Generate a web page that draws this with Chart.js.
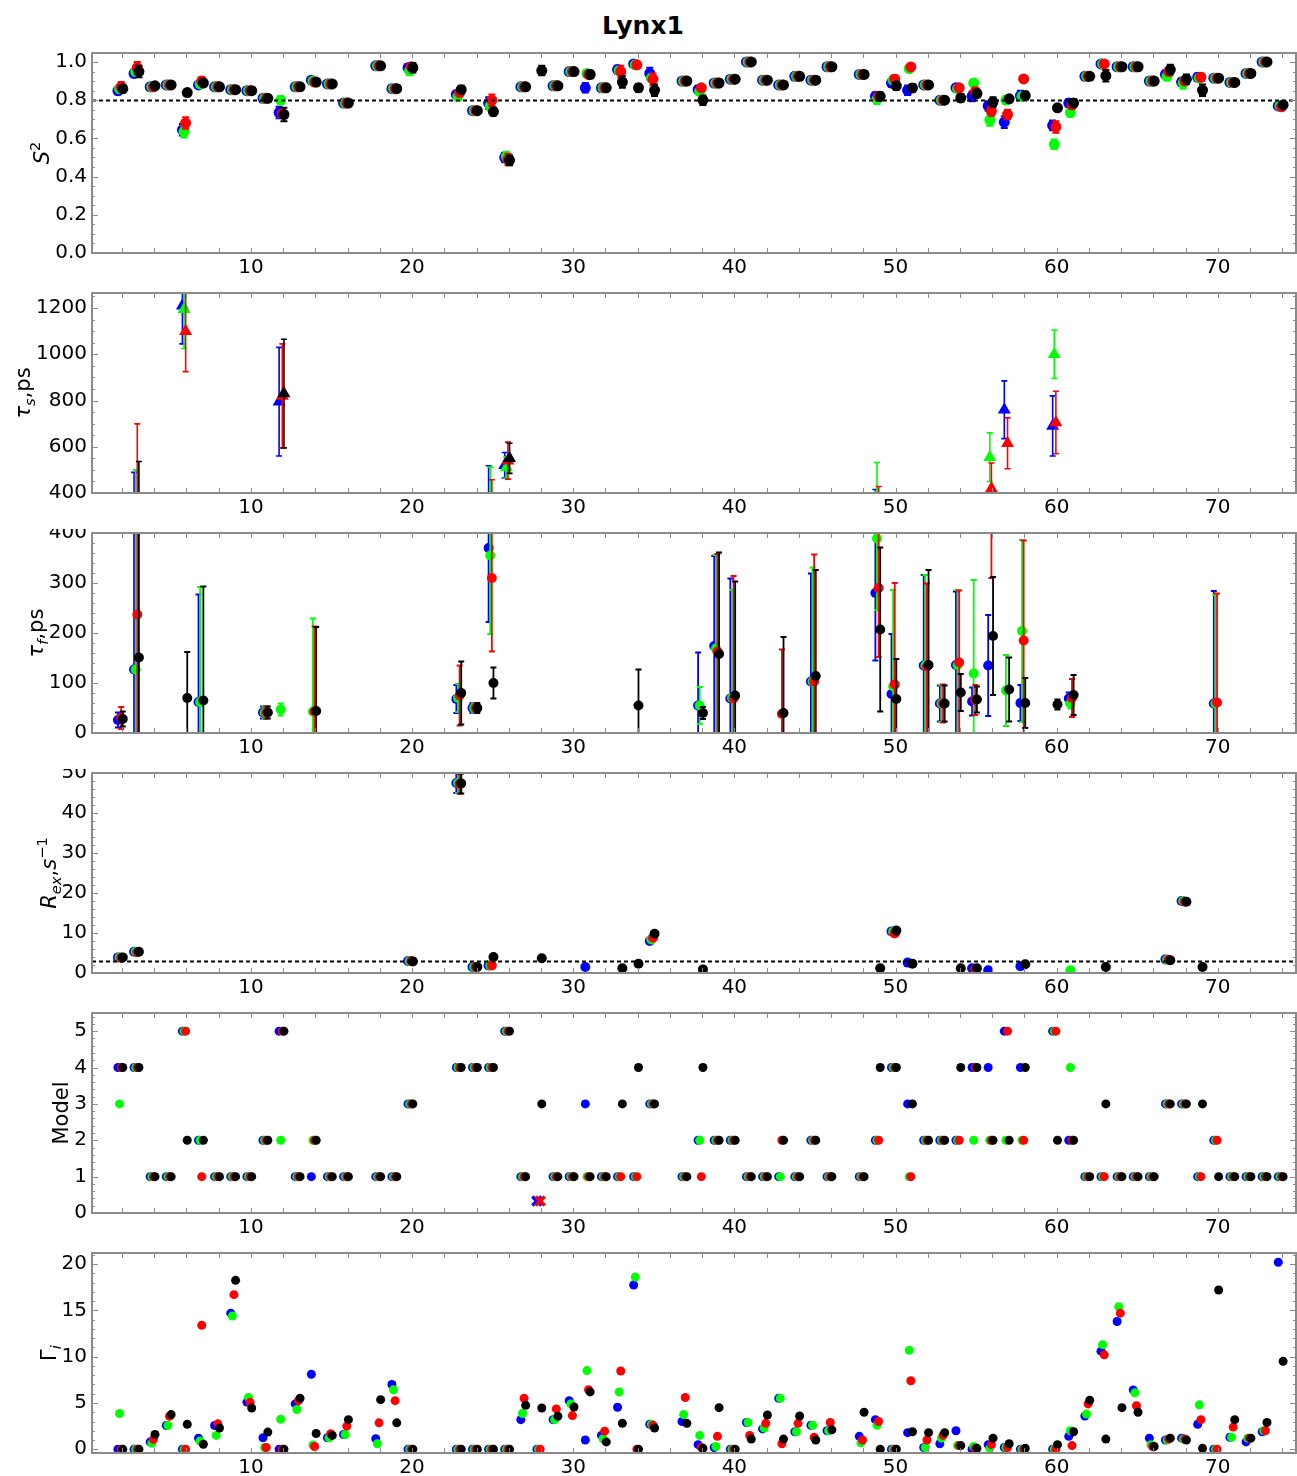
<!DOCTYPE html>
<html>
<head>
<meta charset="utf-8">
<script src="https://cdn.jsdelivr.net/npm/chart.js@4.4.0/dist/chart.umd.min.js"></script>
<style>
html,body{margin:0;padding:0;background:#fff;}
#page{position:relative;width:1297px;height:1476px;overflow:hidden;background:#fff;}
#title{position:absolute;left:0;width:1286px;top:11px;line-height:30px;text-align:center;font:bold 25px 'DejaVu Sans',sans-serif;color:#000;}
.band{position:absolute;left:0;width:1297px;overflow:hidden;}
.band canvas{position:absolute;left:0;}
</style>
</head>
<body>
<div id="page"><div id="title">Lynx1</div></div>
<script>
// ---------------- data ----------------
const residues = [2,3,4,5,6,7,8,9,10,11,12,13,14,15,16,17,18,19,20,21,22,23,24,25,26,27,28,29,30,31,32,33,34,35,36,37,38,39,40,41,42,43,44,45,46,47,48,49,50,51,52,53,54,55,56,57,58,59,60,61,62,63,64,65,66,67,68,69,70,71,72,73,74];

// order parameter S^2
const s2Blue = [.85,.94,.87,.88,.645,.88,.87,.855,.85,.81, .735,.87,.905,.885,.785,null,.98,.86,.97,null, null,.83,.745,.785,.50,.87,null,.875,.95,.865, .865,.96,.99,.94,null,.90,.855,.89,.91,1.0, .905,.88,.925,.905,.975,null,.935,.82,.89,.852, .88,.80,.865,.82,.77,.685,.824,null,.668,.785, .925,.99,.975,.975,.90,.935,.895,.92,.915,.893, .94,1.0,.77];
const s2Green = [.86,.95,.87,.88,.635,.885,.87,.855,.85,.81, .80,.87,.90,.885,.785,null,.98,.86,.955,null, null,.82,.745,.77,.505,.87,null,.875,.95,.94, .865,.955,.985,.915,null,.90,.845,.89,.91,1.0, .905,.88,.925,.905,.975,null,.935,.805,.905,.965, .88,.80,.86,.89,.696,.80,.82,null,.569,.735, .925,.99,.975,.975,.90,.925,.89,.915,.915,.893, .94,1.0,.77];
const s2Red = [.87,.97,.87,.88,.68,.90,.87,.855,.85,.81, .73,.87,.895,.885,.785,null,.98,.86,.975,null, null,.84,.745,.80,.49,.87,null,.875,.95,.935, .865,.95,.985,.91,null,.90,.865,.89,.91,1.0, .905,.88,.925,.905,.975,null,.935,.82,.91,.974, .88,.80,.865,.845,.743,.725,.911,null,.66,.775, .925,.99,.975,.975,.90,.95,.90,.92,.915,.893, .94,1.0,.765];
const s2Black = [.86,.95,.875,.88,.84,.89,.87,.855,.85,.81, .725,.87,.895,.885,.785,null,.98,.86,.97,null, null,.855,.745,.74,.485,.87,.955,.875,.95,.935, .865,.895,.865,.852,null,.90,.80,.89,.91,1.0, .905,.88,.925,.905,.975,null,.935,.82,.875,.864, .88,.80,.812,.835,.79,.807,.824,null,.76,.785, .925,.928,.975,.975,.90,.96,.91,.852,.915,.893, .94,1.0,.775];

const s2ErrBlue = [.02,.02,.015,.015,.03,.015,.015,.015,.015,.01, .03,.015,.015,.015,.01,null,.015,.015,.02,null, null,.02,.015,.03,.025,.01,null,.015,.015,.025, .015,.02,.015,.03,null,.015,.02,.015,.015,.01, .015,.015,.015,.015,.015,null,.015,.02,.02,.025, .015,.01,.015,.025,.025,.03,.025,null,.025,.02, .015,.015,.015,.015,.015,.02,.02,.02,.015,.015, .015,.01,.01];
const s2ErrGreen = [.02,.02,.015,.015,.03,.015,.015,.015,.015,.01, .02,.015,.015,.015,.01,null,.015,.015,.025,null, null,.02,.015,.025,.025,.01,null,.015,.015,.015, .015,.015,.015,.02,null,.015,.015,.015,.015,.01, .015,.015,.015,.015,.015,null,.015,.025,.02,.015, .015,.01,.015,.015,.03,.02,.015,null,.025,.02, .015,.015,.015,.015,.015,.02,.03,.015,.015,.015, .015,.01,.01];
const s2ErrRed = [.025,.03,.015,.015,.03,.02,.015,.015,.015,.01, .02,.015,.015,.015,.01,null,.015,.015,.02,null, null,.02,.015,.03,.03,.01,null,.015,.015,.015, .015,.03,.015,.03,null,.015,.015,.015,.015,.01, .015,.015,.015,.015,.015,null,.015,.02,.02,.015, .015,.01,.015,.02,.025,.025,.015,null,.03,.02, .015,.015,.015,.015,.015,.02,.02,.02,.015,.015, .015,.01,.015];
const s2ErrBlack = [.02,.03,.015,.015,.015,.015,.015,.015,.015,.01, .035,.015,.015,.015,.01,null,.015,.015,.025,null, null,.02,.015,.02,.025,.01,.025,.015,.015,.02, .015,.03,.02,.03,null,.015,.025,.015,.015,.01, .015,.015,.015,.015,.015,null,.015,.02,.02,.02, .015,.01,.02,.02,.025,.015,.02,null,.01,.02, .015,.03,.015,.015,.015,.025,.025,.03,.015,.015, .015,.01,.015];

// internal correlation times (ps): slow values sit above 400, fast ones below
const tauBlue = [26,127,null,null,1210,62,null,null,null,41, 795,null,null,null,null,null,null,null,null,null, null,68,50,370,520,null,null,null,null,null, null,null,null,null,null,null,55,174,69,null, null,null,null,103,null,null,null,280,78,null, 135,59,136,63,135,760,60,null,690,69, null,null,null,null,null,null,null,null,59,null, null,null,null];
const tauErrBlue = [15,362,null,null,165,215,null,null,null,12, 235,null,null,null,null,null,null,null,null,null, null,28,10,148,55,null,null,null,null,null, null,null,null,null,null,null,106,180,240,null, null,null,null,216,null,null,null,135,120,null, 181,36,147,28,101,125,36,null,130,12, null,null,null,null,null,null,null,null,225,null, null,null,null];
const tauGreen = [null,127,null,null,1195,62,null,null,null,41, 47,null,43,null,null,null,null,null,null,null, null,70,50,355,510,null,null,null,null,null, null,null,null,null,null,null,55,169,70,null, null,null,null,103,null,null,null,389,93,null, 135,59,136,119,555,85,204,null,1000,59, null,null,null,null,null,null,null,null,59,null, null,null,null];
const tauErrGreen = [null,373,null,null,170,230,null,null,null,12, 12,null,186,null,null,null,null,null,null,null, null,28,10,157,45,null,null,null,null,null, null,null,null,null,null,null,37,187,216,null, null,null,null,228,null,null,null,143,193,null, 181,37,150,187,105,71,182,null,105,10, null,null,null,null,null,null,null,null,217,null, null,null,null];
const tauRed = [30,237,null,null,1100,null,null,null,null,41, 820,null,43,null,null,null,null,null,null,null, null,75,50,310,540,null,null,null,null,null, null,null,null,null,null,null,null,163,69,null, null,38,null,103,null,null,null,290,97,null, 133,59,141,66,420,615,185,null,705,70, null,null,null,null,null,null,null,null,61,null, null,null,null];
const tauErrRed = [22,462,null,null,175,null,null,null,null,12, 225,null,170,null,null,null,null,null,null,null, null,60,10,147,80,null,null,null,null,null, null,null,null,null,null,null,null,195,245,null, null,129,null,254,null,null,null,138,203,null, 166,38,144,30,110,110,200,null,135,38, null,null,null,null,null,null,null,null,218,null, null,null,null];
const tauBlack = [28,151,null,null,70,65,null,null,null,41, 830,null,44,null,null,null,null,null,null,null, null,80,50,100,550,null,null,null,null,null, null,null,55,null,null,null,40,158,75,null, null,40,null,114,null,null,null,207,68,null, 136,59,81,67,194,87,60,null,57,76, null,null,null,null,null,null,null,null,null,null, null,null,null];
const tauErrBlack = [15,385,null,null,92,228,null,null,null,12, 235,null,168,null,null,null,null,null,null,null, null,63,10,31,65,null,null,null,null,null, null,null,72,null,null,null,12,203,228,null, null,152,null,212,null,null,null,164,80,null, 190,36,37,26,118,64,50,null,10,40, null,null,null,null,null,null,null,null,null,null, null,null,null];

// chemical exchange R_ex (s^-1)
const rexBlue = [3.9,5.3,null,null,null,null,null,null,null,null, null,null,null,null,null,null,null,null,3.0,null, null,47.5,1.5,1.9,null,null,null,null,null,1.5, null,null,null,8.0,null,null,null,null,null,null, null,null,null,null,null,null,null,null,10.4,2.6, null,null,null,1.2,0.7,null,1.7,null,null,null, null,null,null,null,null,3.4,18.0,null,null,null, null,null,null];
const rexGreen = [3.9,5.3,null,null,null,null,null,null,null,null, null,null,null,null,null,null,null,null,3.0,null, null,47.5,1.5,1.9,null,null,null,null,null,null, null,null,null,8.4,null,null,null,null,null,null, null,null,null,null,null,null,null,null,10.3,null, null,null,null,null,null,null,null,null,null,0.7, null,null,null,null,null,3.3,18.0,null,null,null, null,null,null];
const rexRed = [3.8,5.2,null,null,null,null,null,null,null,null, null,null,null,null,null,null,null,null,3.0,null, null,47.3,1.5,1.9,null,null,null,null,null,null, null,null,null,8.8,null,null,null,null,null,null, null,null,null,null,null,null,null,null,9.9,null, null,null,null,1.0,null,null,null,null,null,null, null,null,null,null,null,3.3,17.8,null,null,null, null,null,null];
const rexBlack = [3.9,5.3,null,null,null,null,null,null,null,null, null,null,null,null,null,null,null,null,2.9,null, null,47.4,1.5,4.0,null,null,3.7,null,null,null, null,1.2,2.3,9.8,null,null,0.9,null,null,null, null,null,null,null,null,null,null,1.2,10.6,2.3, null,null,1.2,1.2,null,null,2.2,null,null,null, null,1.5,null,null,null,3.2,17.8,1.5,null,null, null,null,null];
const rexErr = [0.4,0.5,null,null,null,null,null,null,null,null, null,null,null,null,null,null,null,null,0.4,null, null,2.5,0.3,0.4,null,null,0.3,null,null,0.3, null,0.3,0.3,0.5,null,null,0.3,null,null,null, null,null,null,null,null,null,null,0.3,0.6,0.3, null,null,0.3,0.3,0.3,null,0.3,null,null,0.3, null,0.3,null,null,null,0.4,0.7,0.3,null,null, null,null,null];
const rexCutoff = 3;

// selected model-free model ('x' = fit failed)
const modelBlue = [4,4,1,1,5,2,1,1,1,2, 5,1,1,1,1,null,1,1,3,null, null,4,4,4,5,1,'x',1,1,3, 1,1,1,3,null,1,2,2,2,1, 1,1,1,2,1,null,1,2,4,3, 2,2,2,4,4,5,4,null,5,2, 1,1,1,1,1,3,3,1,2,1, 1,1,1];
const modelGreen = [3,4,1,1,5,2,1,1,1,2, 2,1,2,1,1,null,1,1,3,null, null,4,4,4,5,1,null,1,1,1, 1,1,1,3,null,1,2,2,2,1, 1,1,1,2,1,null,1,2,4,1, 2,2,2,2,2,2,2,null,5,4, 1,1,1,1,1,3,3,1,2,1, 1,1,1];
const modelRed = [4,4,1,1,5,1,1,1,1,2, 5,1,2,1,1,null,1,1,3,null, null,4,4,4,5,1,'x',1,1,1, 1,1,1,3,null,1,1,2,2,1, 1,2,1,2,1,null,1,2,4,1, 2,2,2,4,2,5,2,null,5,2, 1,1,1,1,1,3,3,1,2,1, 1,1,1];
const modelBlack = [4,4,1,1,2,2,1,1,1,2, 5,1,2,1,1,null,1,1,3,null, null,4,4,4,5,1,3,1,1,1, 1,3,4,3,null,1,4,2,2,1, 1,2,1,2,1,null,1,4,4,3, 2,2,4,4,2,2,4,null,2,2, 1,3,1,1,1,3,3,3,1,1, 1,1,1];
const failLevel = 0.33;

// fit quality Gamma_i
const gamBlue = [0,0,0.8,2.57,0,1.2,2.57,14.7,5.1,1.25, 0,4.9,8.1,1.25,1.6,null,1.14,7.0,0,null, null,0,0,0,0,3.2,0,3.2,5.25,1.0, 1.5,4.54,17.75,2.7,null,3.0,0.5,0.2,0,2.9, 2.2,5.5,1.9,2.6,2.0,null,1.4,3.2,0,1.8, 0.2,0.6,2.0,0,0.5,0.2,0,null,0,1.4, 3.6,10.6,13.8,6.4,1.2,1.0,1.2,2.7,0,1.3, 0.8,1.9,20.2];
const gamGreen = [3.86,0,0.65,2.57,0,0.9,1.5,14.4,5.6,0.2, 3.25,4.3,0.46,1.25,1.6,null,0.6,6.43,0,null, null,0,0,0,0,3.86,0,3.2,4.9,8.5, 1.14,6.2,18.6,2.7,null,3.75,1.5,0.3,0,2.9, 2.3,5.5,1.9,2.6,2.0,null,0.7,2.6,0,10.7, 0.2,1.2,0.4,0.3,0.1,0.2,0,null,0,2.0, 3.8,11.3,15.4,6.1,0.5,1.0,1.1,4.8,0,1.3, 1.2,2.0,null];
const gamRed = [0,0,1.07,3.57,0,13.4,2.75,16.7,5.07,0.2, 0,5.25,0.3,1.68,2.5,null,2.86,5.25,0,null, null,0,0,0,0,5.5,0,4.36,3.64,6.43, 1.96,8.46,0,2.6,null,5.6,0.2,1.4,0,1.5, 2.8,0.6,2.8,1.3,2.9,null,1.0,3.0,0,7.4, 1.0,1.5,0.4,0.1,0.5,0.2,0,null,0,0.4, 4.9,10.2,14.7,4.7,0.3,1.1,1.1,3.2,0,2.4, 1.2,2.0,null];
const gamBlack = [0,0,1.6,3.75,2.7,0.55,2.3,18.25,4.46,1.86, 0,5.5,1.7,1.5,3.2,null,5.36,2.86,0,null, null,0,0,0,0,4.75,4.46,3.57,4.57,6.2, 0.8,2.8,0,2.3,null,2.8,0.1,4.5,0,1.1, 3.7,1.1,3.6,1.0,2.1,null,4.0,0,0,1.9, 1.8,1.8,0.4,0.1,1.2,0.6,0.1,null,0.5,1.9, 5.3,1.1,4.5,4.0,0.3,1.2,1.0,0.1,17.2,3.2, 1.2,2.9,9.5];

// ---------------- drawing ----------------
const FONT = "'DejaVu Sans', sans-serif";
// drawn back to front: blue, green, red, black (Chart.js paints index 0 last)
const SERIES = [
  {key: 'black', color: '#000000', off: 0.05},
  {key: 'red',   color: '#ff0000', off: -0.05},
  {key: 'green', color: '#00ff00', off: -0.15},
  {key: 'blue',  color: '#0000ff', off: -0.25}
];
const panelCfg = {};

function drawRich(ctx, parts, size, cx, cy) {
  const segs = parts.map(p => {
    const fs = (p.sub || p.sup) ? size * 0.7 : size;
    const font = (p.it ? 'italic ' : '') + fs + 'px ' + FONT;
    ctx.font = font;
    return {p, font, w: ctx.measureText(p.t).width};
  });
  const total = segs.reduce((s, g) => s + g.w, 0);
  ctx.save();
  ctx.translate(cx, cy);
  ctx.rotate(-Math.PI / 2);
  ctx.fillStyle = '#000';
  ctx.textAlign = 'left';
  ctx.textBaseline = 'alphabetic';
  let x = -total / 2;
  segs.forEach(g => {
    ctx.font = g.font;
    const dy = g.p.sub ? size * 0.24 : (g.p.sup ? -size * 0.42 : 0);
    ctx.fillText(g.p.t, x, dy);
    x += g.w;
  });
  ctx.restore();
}

const errPlugin = {
  id: 'errbars',
  beforeDatasetDraw(chart, args) {
    const ds = chart.data.datasets[args.index];
    if (!ds.errs) return;
    const cfg = panelCfg[chart.canvas.id];
    const {ctx, chartArea: a} = chart;
    const xs = chart.scales.x, ys = chart.scales.y;
    ctx.save();
    ctx.beginPath();
    ctx.rect(a.left, a.top, a.right - a.left, a.bottom - a.top);
    ctx.clip();
    ctx.strokeStyle = ds.backgroundColor;
    ctx.lineWidth = cfg.errWidth;
    const cap = cfg.cap;
    ds.data.forEach((pt, i) => {
      const e = ds.errs[i];
      if (e == null) return;
      const px = xs.getPixelForValue(pt.x);
      const y0 = ys.getPixelForValue(pt.y - e);
      const y1 = ys.getPixelForValue(pt.y + e);
      ctx.beginPath();
      ctx.moveTo(px, y0); ctx.lineTo(px, y1);
      ctx.moveTo(px - cap, y0); ctx.lineTo(px + cap, y0);
      ctx.moveTo(px - cap, y1); ctx.lineTo(px + cap, y1);
      ctx.stroke();
    });
    ctx.restore();
  }
};

const framePlugin = {
  id: 'frame',
  afterDatasetsDraw(chart) {
    const cfg = panelCfg[chart.canvas.id];
    const {ctx, chartArea: a} = chart;
    const xs = chart.scales.x, ys = chart.scales.y;
    ctx.save();
    if (cfg.hline != null) {
      const hy = Math.round(ys.getPixelForValue(cfg.hline)) + 0.5;
      ctx.strokeStyle = '#000';
      ctx.lineWidth = 2;
      ctx.setLineDash([4, 3]);
      ctx.beginPath(); ctx.moveTo(a.left, hy); ctx.lineTo(a.right, hy); ctx.stroke();
      ctx.setLineDash([]);
    }
    ctx.strokeStyle = '#8a8a8a';
    ctx.lineWidth = 1;
    ctx.beginPath();
    for (let v = 2; v < xs.max; v += 2) {
      const px = Math.round(xs.getPixelForValue(v)) + 0.5;
      ctx.moveTo(px, a.bottom); ctx.lineTo(px, a.bottom - 5);
      ctx.moveTo(px, a.top); ctx.lineTo(px, a.top + 5);
    }
    const start = Math.ceil(ys.min / cfg.minor - 1e-9) * cfg.minor;
    for (let v = start; v <= ys.max + 1e-9; v += cfg.minor) {
      const q = v / cfg.step;
      const major = Math.abs(q - Math.round(q)) < 1e-6;
      const len = major ? 6 : 3;
      const py = Math.round(ys.getPixelForValue(v)) + 0.5;
      ctx.moveTo(a.left, py); ctx.lineTo(a.left + len, py);
      ctx.moveTo(a.right, py); ctx.lineTo(a.right - len, py);
    }
    ctx.stroke();
    ctx.lineWidth = 2;
    ctx.strokeStyle = '#8a8a8a';
    ctx.strokeRect(a.left, a.top, a.right - a.left, a.bottom - a.top);
    ctx.restore();
  },
  afterDraw(chart) {
    const cfg = panelCfg[chart.canvas.id];
    const {ctx, chartArea: a} = chart;
    const ys = chart.scales.y;
    ctx.save();
    ctx.font = '20px ' + FONT;
    let maxW = 0;
    ys.ticks.forEach(t => {
      const lbl = cfg.fmt(t.value);
      maxW = Math.max(maxW, ctx.measureText(lbl).width);
    });
    ctx.restore();
    const tickLeft = a.left - 5 - maxW;
    drawRich(ctx, cfg.label, 21, tickLeft - 6, (a.top + a.bottom) / 2);
  }
};

Chart.register(errPlugin, framePlugin);

function buildSets(seriesVals, seriesErrs, style) {
  return SERIES.map(s => {
    const vals = seriesVals[s.key];
    const errs = seriesErrs ? seriesErrs[s.key] : null;
    const data = [], e = [];
    residues.forEach((r, i) => {
      const v = vals[i];
      if (v === null || v === undefined) return;
      if (v === 'x') {
        data.push({x: r + s.off, y: failLevel, fail: true});
      } else {
        data.push({x: r + s.off, y: v});
      }
      e.push(errs ? errs[i] : null);
    });
    return {
      label: s.key,
      data,
      errs: errs ? e : null,
      backgroundColor: s.color,
      borderColor: s.color,
      pointStyle: c => (c.raw && c.raw.fail) ? 'crossRot' : style.shape,
      pointRadius: c => (c.raw && c.raw.fail) ? 6.5 : style.r,
      pointBorderWidth: c => (c.raw && c.raw.fail) ? 3.5 : 0,
      pointHoverRadius: style.r,
      showLine: false
    };
  });
}

let panelIndex = 0;
function makePanel(cfg) {
  const idx = panelIndex++;
  const T = 53 + 240 * idx;
  const clipTop = cfg.clipTop || 20;
  const wrap = document.createElement('div');
  wrap.className = 'band';
  wrap.style.top = (T - clipTop) + 'px';
  wrap.style.height = (clipTop + 234) + 'px';
  const cv = document.createElement('canvas');
  cv.id = 'panel' + idx;
  cv.width = 1297; cv.height = 254;
  cv.style.width = '1297px'; cv.style.height = '254px';
  cv.style.top = (clipTop - 20) + 'px';
  wrap.appendChild(cv);
  document.getElementById('page').appendChild(wrap);
  panelCfg[cv.id] = cfg;

  new Chart(cv, {
    type: 'scatter',
    data: {datasets: buildSets(cfg.vals, cfg.errs, cfg.style)},
    options: {
      responsive: false,
      animation: false,
      devicePixelRatio: 1,
      layout: {autoPadding: false, padding: {top: 20, right: 1, left: 0, bottom: 0}},
      plugins: {legend: {display: false}, tooltip: {enabled: false}},
      events: [],
      scales: {
        x: {
          type: 'linear', min: 0.14, max: 74.85,
          grid: {display: false, drawTicks: false},
          border: {display: false},
          ticks: {stepSize: 10, includeBounds: false, autoSkip: false, maxRotation: 0,
                  padding: 3, color: '#000', font: {family: FONT, size: 20}},
          afterFit: s => { s.height = 34; }
        },
        y: {
          type: 'linear', min: cfg.min, max: cfg.max,
          grid: {display: false, drawTicks: false},
          border: {display: false},
          ticks: {stepSize: cfg.step, includeBounds: false, autoSkip: false,
                  padding: 5, color: '#000', font: {family: FONT, size: 20},
                  callback: v => cfg.fmt(v)},
          afterFit: s => { s.width = 92; }
        }
      }
    }
  });
}

const int = v => String(Math.round(v));

makePanel({
  label: [{t: 'S', it: 1}, {t: '2', sup: 1}],
  min: 0, max: 1.047, step: 0.2, minor: 0.05, fmt: v => v.toFixed(1), hline: 0.8,
  vals: {blue: s2Blue, green: s2Green, red: s2Red, black: s2Black},
  errs: {blue: s2ErrBlue, green: s2ErrGreen, red: s2ErrRed, black: s2ErrBlack},
  style: {shape: 'circle', r: 5.5}, errWidth: 2, cap: 3.5
});
makePanel({
  label: [{t: 'τ', it: 1}, {t: 's', sub: 1, it: 1}, {t: ',ps'}],
  min: 400, max: 1265, step: 200, minor: 50, fmt: int,
  vals: {blue: tauBlue, green: tauGreen, red: tauRed, black: tauBlack},
  errs: {blue: tauErrBlue, green: tauErrGreen, red: tauErrRed, black: tauErrBlack},
  style: {shape: 'triangle', r: 7.5}, errWidth: 1.6, cap: 3
});
makePanel({
  label: [{t: 'τ', it: 1}, {t: 'f', sub: 1, it: 1}, {t: ',ps'}],
  min: 0, max: 400, step: 100, minor: 20, fmt: int, clipTop: 4,
  vals: {blue: tauBlue, green: tauGreen, red: tauRed, black: tauBlack},
  errs: {blue: tauErrBlue, green: tauErrGreen, red: tauErrRed, black: tauErrBlack},
  style: {shape: 'circle', r: 5}, errWidth: 1.8, cap: 3
});
makePanel({
  label: [{t: 'R', it: 1}, {t: 'ex', sub: 1, it: 1}, {t: ','}, {t: 's', it: 1}, {t: '−1', sup: 1}],
  min: 0, max: 50, step: 10, minor: 2, fmt: int, clipTop: 4, hline: rexCutoff,
  vals: {blue: rexBlue, green: rexGreen, red: rexRed, black: rexBlack},
  errs: {blue: rexErr, green: rexErr, red: rexErr, black: rexErr},
  style: {shape: 'circle', r: 5}, errWidth: 2, cap: 3
});
makePanel({
  label: [{t: 'Model'}],
  min: 0, max: 5.5, step: 1, minor: 0.2, fmt: int,
  vals: {blue: modelBlue, green: modelGreen, red: modelRed, black: modelBlack},
  errs: null,
  style: {shape: 'circle', r: 4.5}, errWidth: 1, cap: 0
});
makePanel({
  label: [{t: 'Γ'}, {t: 'i', sub: 1, it: 1}],
  min: -0.4, max: 21.2, step: 5, minor: 1, fmt: int,
  vals: {blue: gamBlue, green: gamGreen, red: gamRed, black: gamBlack},
  errs: null,
  style: {shape: 'circle', r: 4.5}, errWidth: 1, cap: 0
});
</script>
</body>
</html>
